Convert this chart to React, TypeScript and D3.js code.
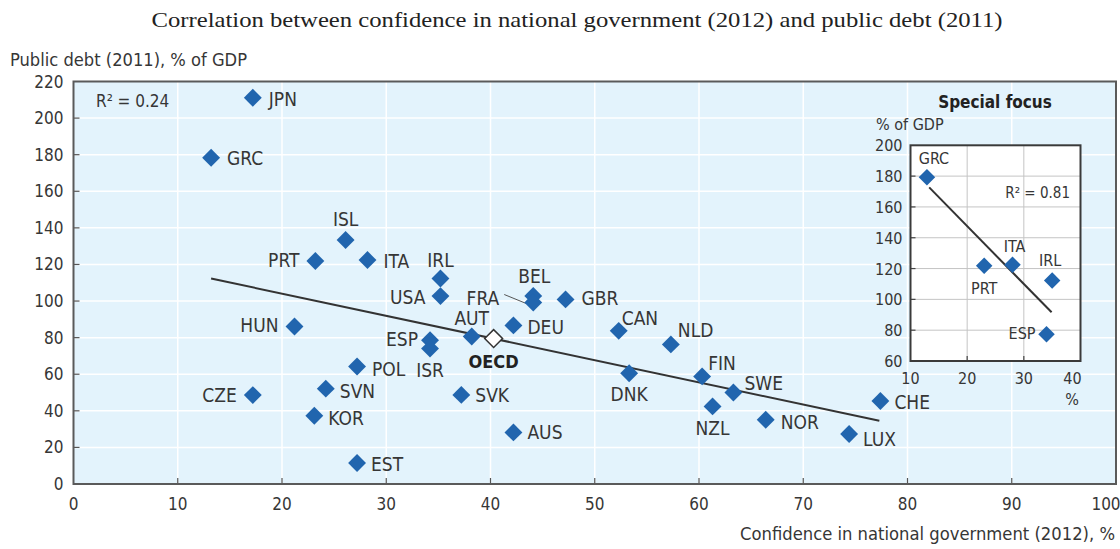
import React from "react";
import * as d3 from "d3";

// main scatter: confidence in government (2012, %) vs public debt (2011, % of GDP)
const codes = ["JPN", "GRC", "ISL", "PRT", "ITA", "IRL", "USA", "BEL", "FRA", "GBR", "HUN", "AUT", "DEU", "CAN", "NLD", "ESP", "ISR", "POL", "SVN", "CZE", "KOR", "EST", "SVK", "AUS", "DNK", "FIN", "NZL", "SWE", "NOR", "LUX", "CHE"];
const confidence = [17.2, 13.2, 26.1, 23.2, 28.2, 35.2, 35.2, 44.1, 44.1, 47.2, 21.2, 38.2, 42.2, 52.3, 57.3, 34.2, 34.2, 27.2, 24.2, 17.2, 23.1, 27.2, 37.2, 42.2, 53.3, 60.3, 61.3, 63.3, 66.4, 74.4, 77.4];
const debt = [211.1, 178.3, 133.4, 121.9, 122.4, 112.3, 102.7, 102.8, 99.2, 100.9, 86.1, 80.6, 86.7, 83.7, 76.3, 78.6, 74.0, 64.2, 52.1, 48.6, 37.3, 11.5, 48.7, 28.2, 60.5, 58.8, 42.4, 50.0, 35.1, 27.3, 45.4];

const oecd = { code: "OECD", confidence: 40.3, debt: 79.5 };

// fitted trend lines (endpoints)
const trendConfidence = [13.2, 77.3];
const trendDebt = [112.3, 34.6];

const xTicks = [0, 10, 20, 30, 40, 50, 60, 70, 80, 90, 100];
const yTicks = [0, 20, 40, 60, 80, 100, 120, 140, 160, 180, 200, 220];

// special focus inset
const focusCodes = ["GRC", "PRT", "ITA", "IRL", "ESP"];
const focusConfidence = [12.9, 23.0, 28.0, 35.0, 34.0];
const focusDebt = [179.2, 121.9, 122.4, 112.3, 77.4];
const focusTrendConfidence = [13.3, 34.9];
const focusTrendDebt = [172.7, 91.6];
const focusXTicks = [10, 20, 30, 40];
const focusYTicks = [60, 80, 100, 120, 140, 160, 180, 200];

// label placement: [dx, dy, anchor]
const labelPos: Record<string, [number, number, string]> = {
  JPN: [16, 8, "start"], GRC: [16, 7, "start"], ISL: [0, -14, "middle"],
  PRT: [-16, 6, "end"], ITA: [16, 8, "start"], IRL: [0, -12, "middle"],
  USA: [-15, 8, "end"], BEL: [1, -13, "middle"], FRA: [-34, 2, "end"],
  GBR: [16, 6, "start"], HUN: [-16, 6, "end"], AUT: [0, -12, "middle"],
  DEU: [14, 9, "start"], CAN: [3, -6, "start"], NLD: [7, -7, "start"],
  ESP: [-12, 6, "end"], ISR: [0, 28, "middle"], POL: [15, 9, "start"],
  SVN: [14, 9, "start"], CZE: [-16, 7, "end"], KOR: [14, 9, "start"],
  EST: [14, 8, "start"], SVK: [14, 7, "start"], AUS: [14, 7, "start"],
  DNK: [0, 28, "middle"], FIN: [6, -6, "start"], NZL: [0, 29, "middle"],
  SWE: [11, -3, "start"], NOR: [15, 9, "start"], LUX: [14, 12, "start"],
  CHE: [14, 8, "start"],
};
const focusLabelPos: Record<string, [number, number, string]> = {
  GRC: [7, -13, "middle"], PRT: [0, 28, "middle"], ITA: [2, -13, "middle"],
  IRL: [-2, -14, "middle"], ESP: [-11, 5, "end"],
};

const BLUE = "#2165ae";
const TEXT = "#363636";
const NARROW = "'Liberation Sans Narrow', 'DejaVu Sans Condensed', 'Arial Narrow', sans-serif";

export default function App() {
  const W = 1120, H = 549;
  const x = d3.scaleLinear().domain([0, 100]).range([73.5, 1116]);
  const y = d3.scaleLinear().domain([0, 220]).range([484, 81.5]);

  const fx = d3.scaleLinear().domain([10, 40]).range([910.5, 1080.5]);
  const fy = d3.scaleLinear().domain([60, 200]).range([361, 145.3]);

  const diamond = d3.symbol().type(d3.symbolSquare).size(160)()!;
  const smallDiamond = d3.symbol().type(d3.symbolSquare).size(136)()!;

  const line = d3.line<number>().x((d) => x(d)).y((_, i) => y(trendDebt[i]));
  const focusLine = d3.line<number>().x((d) => fx(d)).y((_, i) => fy(focusTrendDebt[i]));

  const fraIdx = codes.indexOf("FRA");

  return (
    <svg width={W} height={H} style={{ position: "absolute", left: 0, top: 0 }} fontFamily={NARROW}>
      <rect width={W} height={H} fill="#fff" />
      <text x={577} y={27} textAnchor="middle" fontFamily="'Liberation Serif', 'DejaVu Serif', serif" fontSize={21} fill="#222" textLength={851} lengthAdjust="spacingAndGlyphs">
        Correlation between confidence in national government (2012) and public debt (2011)
      </text>
      <text x={10} y={66} fontSize={18} fill={TEXT} textLength={237} lengthAdjust="spacingAndGlyphs">Public debt (2011), % of GDP</text>

      {/* main plot background + grid */}
      <rect x={x(0)} y={y(220)} width={x(100) - x(0)} height={y(0) - y(220)} fill="#e3f3fc" />
      {xTicks.slice(1, -1).map((t) => (
        <line key={"gx" + t} x1={x(t)} x2={x(t)} y1={y(0)} y2={y(220)} stroke="#fff" strokeWidth={1.5} />
      ))}
      {yTicks.slice(1, -1).map((t) => (
        <line key={"gy" + t} x1={x(0)} x2={x(100)} y1={y(t)} y2={y(t)} stroke="#fff" strokeWidth={1.5} />
      ))}
      {xTicks.slice(1, -1).map((t) => (
        <line key={"tx" + t} x1={x(t)} x2={x(t)} y1={y(0)} y2={y(0) - 6} stroke="#555" strokeWidth={1.2} />
      ))}
      {yTicks.slice(1, -1).map((t) => (
        <line key={"ty" + t} x1={x(0)} x2={x(0) + 6} y1={y(t)} y2={y(t)} stroke="#555" strokeWidth={1.2} />
      ))}
      <rect x={x(0)} y={y(220)} width={x(100) - x(0)} height={y(0) - y(220)} fill="none" stroke="#5a5a5a" strokeWidth={2} />

      {yTicks.map((t) => (
        <text key={"ly" + t} x={x(0) - 10} y={y(t) + 6} textAnchor="end" fontSize={17} fill={TEXT}>{t}</text>
      ))}
      {xTicks.map((t) => (
        <text key={"lx" + t} x={t === 100 ? x(t) - 10 : x(t)} y={y(0) + 26} textAnchor="middle" fontSize={17} fill={TEXT}>{t}</text>
      ))}
      <text x={1115} y={540} textAnchor="end" fontSize={18} fill={TEXT} textLength={375} lengthAdjust="spacingAndGlyphs">Confidence in national government (2012), %</text>

      <text x={96} y={107} fontSize={17} fill={TEXT}>R² = 0.24</text>

      {/* trend line */}
      <path d={line(trendConfidence) || ""} fill="none" stroke="#333" strokeWidth={2} />

      {/* FRA leader line */}
      <line x1={x(confidence[fraIdx]) - 29} y1={y(debt[fraIdx]) - 8} x2={x(confidence[fraIdx]) - 7} y2={y(debt[fraIdx]) + 1} stroke="#555" strokeWidth={1} />

      {codes.map((c, i) => (
        <path key={"p" + c} d={diamond} transform={`translate(${x(confidence[i])},${y(debt[i])}) rotate(45)`} fill={BLUE} />
      ))}
      <path d={diamond} transform={`translate(${x(oecd.confidence)},${y(oecd.debt)}) rotate(45)`} fill="#fff" stroke="#333" strokeWidth={1.5} />
      <text x={x(oecd.confidence)} y={y(oecd.debt) + 29} textAnchor="middle" fontSize={18} fontWeight="bold" fill="#222">OECD</text>

      {codes.map((c, i) => {
        const [dx, dy, anchor] = labelPos[c];
        return (
          <text key={"l" + c} x={x(confidence[i]) + dx} y={y(debt[i]) + dy} textAnchor={anchor as any} fontSize={19} fill={TEXT}>{c}</text>
        );
      })}

      {/* special focus inset */}
      <text x={995} y={108} textAnchor="middle" fontSize={17} fontWeight="bold" fill="#222">Special focus</text>
      <text x={876} y={130} fontSize={16} fill={TEXT}>% of GDP</text>
      <rect x={fx(10)} y={fy(200)} width={fx(40) - fx(10)} height={fy(60) - fy(200)} fill="#fff" />
      {focusXTicks.slice(1, -1).map((t) => (
        <line key={"fgx" + t} x1={fx(t)} x2={fx(t)} y1={fy(60)} y2={fy(200)} stroke="#c4c4c4" strokeWidth={1} />
      ))}
      {focusYTicks.slice(1, -1).map((t) => (
        <line key={"fgy" + t} x1={fx(10)} x2={fx(40)} y1={fy(t)} y2={fy(t)} stroke="#c4c4c4" strokeWidth={1} />
      ))}
      {focusYTicks.slice(1, -1).map((t) => (
        <line key={"fty" + t} x1={fx(10)} x2={fx(10) + 5} y1={fy(t)} y2={fy(t)} stroke="#444" strokeWidth={1.2} />
      ))}
      {focusXTicks.slice(1, -1).map((t) => (
        <line key={"ftx" + t} x1={fx(t)} x2={fx(t)} y1={fy(60)} y2={fy(60) - 5} stroke="#444" strokeWidth={1.2} />
      ))}
      <rect x={fx(10)} y={fy(200)} width={fx(40) - fx(10)} height={fy(60) - fy(200)} fill="none" stroke="#3a3a3a" strokeWidth={2} />
      {focusYTicks.map((t) => (
        <text key={"fly" + t} x={fx(10) - 8} y={fy(t) + 6} textAnchor="end" fontSize={16} fill={TEXT}>{t}</text>
      ))}
      {focusXTicks.map((t) => (
        <text key={"flx" + t} x={t === 40 ? fx(t) - 8 : fx(t)} y={fy(60) + 23} textAnchor="middle" fontSize={16} fill={TEXT}>{t}</text>
      ))}
      <text x={1072} y={405} textAnchor="middle" fontSize={16} fill={TEXT}>%</text>
      <text x={1070} y={198} textAnchor="end" fontSize={15} fill={TEXT}>R² = 0.81</text>
      <path d={focusLine(focusTrendConfidence) || ""} fill="none" stroke="#333" strokeWidth={2} />
      {focusCodes.map((c, i) => (
        <path key={"fp" + c} d={smallDiamond} transform={`translate(${fx(focusConfidence[i])},${fy(focusDebt[i])}) rotate(45)`} fill={BLUE} />
      ))}
      {focusCodes.map((c, i) => {
        const [dx, dy, anchor] = focusLabelPos[c];
        return (
          <text key={"fl" + c} x={fx(focusConfidence[i]) + dx} y={fy(focusDebt[i]) + dy} textAnchor={anchor as any} fontSize={16} fill={TEXT}>{c}</text>
        );
      })}
    </svg>
  );
}
